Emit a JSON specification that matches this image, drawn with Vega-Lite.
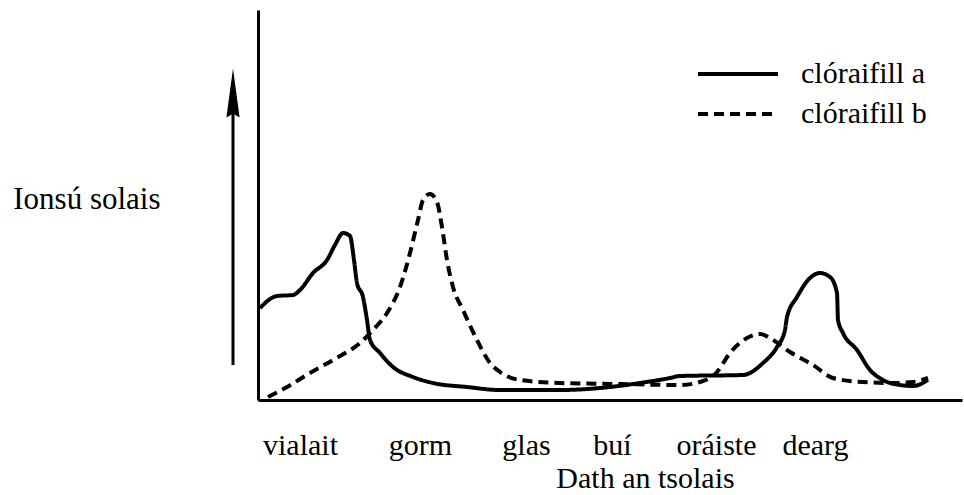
{
  "$schema": "https://vega.github.io/schema/vega-lite/v6.json",
  "autosize": "none",
  "width": 704,
  "height": 390,
  "padding": {"left": 258, "top": 10, "right": 2, "bottom": 95},
  "background": "white",
  "config": {
    "font": "Liberation Serif",
    "view": {"stroke": null},
    "axis": {"grid": false, "domainColor": "black", "domainWidth": 3, "ticks": false, "titleFontWeight": "normal", "titleColor": "black", "labelColor": "black", "titleFont": "Liberation Serif", "labelFont": "Liberation Serif"},
    "legend": {"labelFont": "Liberation Serif"}
  },
  "layer": [
    {
      "data": {"values": [{"x": -25, "y": 35, "y2": 300}]},
      "mark": {"type": "rule", "color": "black", "strokeWidth": 3},
      "encoding": {
        "x": {"field": "x", "type": "quantitative"},
        "y": {"field": "y", "type": "quantitative"},
        "y2": {"field": "y2"}
      }
    },
    {
      "data": {"values": [{"x": -25, "y": 307}]},
      "mark": {"type": "point", "shape": "M0,-1L0.27,1L0,0.85L-0.27,1Z", "filled": true, "color": "black", "opacity": 1, "size": 2401},
      "encoding": {
        "x": {"field": "x", "type": "quantitative"},
        "y": {"field": "y", "type": "quantitative"}
      }
    },
    {
      "data": {"values": [
        {"s": "clóraifill a", "x": 2, "y": 92}, {"s": "clóraifill a", "x": 19, "y": 104}, {"s": "clóraifill a", "x": 35, "y": 105}, {"s": "clóraifill a", "x": 42, "y": 110}, {"s": "clóraifill a", "x": 55, "y": 127}, {"s": "clóraifill a", "x": 69, "y": 140}, {"s": "clóraifill a", "x": 77, "y": 155}, {"s": "clóraifill a", "x": 85, "y": 167}, {"s": "clóraifill a", "x": 92, "y": 164}, {"s": "clóraifill a", "x": 96, "y": 140}, {"s": "clóraifill a", "x": 99, "y": 117}, {"s": "clóraifill a", "x": 105, "y": 103}, {"s": "clóraifill a", "x": 109, "y": 80}, {"s": "clóraifill a", "x": 112, "y": 60}, {"s": "clóraifill a", "x": 122, "y": 47}, {"s": "clóraifill a", "x": 135, "y": 33}, {"s": "clóraifill a", "x": 155, "y": 23}, {"s": "clóraifill a", "x": 175, "y": 17}, {"s": "clóraifill a", "x": 209, "y": 13}, {"s": "clóraifill a", "x": 242, "y": 10}, {"s": "clóraifill a", "x": 302, "y": 10}, {"s": "clóraifill a", "x": 342, "y": 12}, {"s": "clóraifill a", "x": 382, "y": 17}, {"s": "clóraifill a", "x": 412, "y": 22}, {"s": "clóraifill a", "x": 422, "y": 24}, {"s": "clóraifill a", "x": 485, "y": 25}, {"s": "clóraifill a", "x": 505, "y": 37}, {"s": "clóraifill a", "x": 519, "y": 53}, {"s": "clóraifill a", "x": 527, "y": 70}, {"s": "clóraifill a", "x": 529, "y": 83}, {"s": "clóraifill a", "x": 539, "y": 103}, {"s": "clóraifill a", "x": 552, "y": 122}, {"s": "clóraifill a", "x": 562, "y": 127}, {"s": "clóraifill a", "x": 572, "y": 123}, {"s": "clóraifill a", "x": 579, "y": 107}, {"s": "clóraifill a", "x": 580, "y": 80}, {"s": "clóraifill a", "x": 585, "y": 67}, {"s": "clóraifill a", "x": 599, "y": 50}, {"s": "clóraifill a", "x": 612, "y": 30}, {"s": "clóraifill a", "x": 625, "y": 20}, {"s": "clóraifill a", "x": 642, "y": 15}, {"s": "clóraifill a", "x": 655, "y": 14}, {"s": "clóraifill a", "x": 670, "y": 20},
        {"s": "clóraifill b", "x": 10, "y": 3}, {"s": "clóraifill b", "x": 29, "y": 13}, {"s": "clóraifill b", "x": 52, "y": 27}, {"s": "clóraifill b", "x": 75, "y": 40}, {"s": "clóraifill b", "x": 102, "y": 57}, {"s": "clóraifill b", "x": 115, "y": 70}, {"s": "clóraifill b", "x": 129, "y": 87}, {"s": "clóraifill b", "x": 142, "y": 113}, {"s": "clóraifill b", "x": 152, "y": 147}, {"s": "clóraifill b", "x": 160, "y": 180}, {"s": "clóraifill b", "x": 165, "y": 200}, {"s": "clóraifill b", "x": 172, "y": 206}, {"s": "clóraifill b", "x": 179, "y": 198}, {"s": "clóraifill b", "x": 184, "y": 173}, {"s": "clóraifill b", "x": 189, "y": 140}, {"s": "clóraifill b", "x": 195, "y": 113}, {"s": "clóraifill b", "x": 205, "y": 90}, {"s": "clóraifill b", "x": 219, "y": 60}, {"s": "clóraifill b", "x": 232, "y": 37}, {"s": "clóraifill b", "x": 242, "y": 28}, {"s": "clóraifill b", "x": 262, "y": 20}, {"s": "clóraifill b", "x": 302, "y": 17}, {"s": "clóraifill b", "x": 362, "y": 16}, {"s": "clóraifill b", "x": 422, "y": 15}, {"s": "clóraifill b", "x": 442, "y": 18}, {"s": "clóraifill b", "x": 459, "y": 28}, {"s": "clóraifill b", "x": 472, "y": 47}, {"s": "clóraifill b", "x": 489, "y": 62}, {"s": "clóraifill b", "x": 502, "y": 66}, {"s": "clóraifill b", "x": 515, "y": 60}, {"s": "clóraifill b", "x": 532, "y": 48}, {"s": "clóraifill b", "x": 555, "y": 35}, {"s": "clóraifill b", "x": 575, "y": 22}, {"s": "clóraifill b", "x": 605, "y": 18}, {"s": "clóraifill b", "x": 635, "y": 17}, {"s": "clóraifill b", "x": 655, "y": 18}, {"s": "clóraifill b", "x": 670, "y": 22}
      ]},
      "mark": {"type": "line", "color": "black", "strokeWidth": 4, "interpolate": "monotone", "strokeJoin": "round"},
      "encoding": {
        "x": {
          "field": "x", "type": "quantitative",
          "scale": {"domain": [0, 704], "nice": false, "zero": false},
          "axis": {
            "orient": "bottom",
            "values": [42, 162, 268, 354, 458, 557],
            "labelExpr": "datum.value == 42 ? 'vialait' : datum.value == 162 ? 'gorm' : datum.value == 268 ? 'glas' : datum.value == 354 ? 'buí' : datum.value == 458 ? 'oráiste' : 'dearg'",
            "labelFontSize": 30,
            "labelBaseline": "alphabetic",
            "labelPadding": 54,
            "labelOverlap": false,
            "labelFlush": false,
            "title": "Dath an tsolais",
            "titleFontSize": 30,
            "titleBaseline": "alphabetic",
            "titleAlign": "center",
            "titleX": 387,
            "titleY": 87
          }
        },
        "y": {
          "field": "y", "type": "quantitative",
          "scale": {"domain": [0, 390], "nice": false, "zero": false},
          "axis": {
            "labels": false,
            "title": "Ionsú solais",
            "titleAngle": 0,
            "titleAlign": "right",
            "titleBaseline": "alphabetic",
            "titleX": -98,
            "titleY": 198,
            "titleFontSize": 31
          }
        },
        "strokeDash": {
          "field": "s", "type": "nominal",
          "scale": {"domain": ["clóraifill a", "clóraifill b"], "range": [[1, 0], [10, 6]]},
          "legend": {
            "title": null,
            "orient": "none",
            "legendX": 465,
            "legendY": 49,
            "padding": 0,
            "symbolType": "M-4,0H4",
            "symbolSize": 400,
            "symbolStrokeWidth": 4,
            "symbolStrokeColor": "black",
            "labelFontSize": 30,
            "labelColor": "black",
            "labelOffset": 48,
            "rowPadding": 10
          }
        }
      }
    }
  ]
}
